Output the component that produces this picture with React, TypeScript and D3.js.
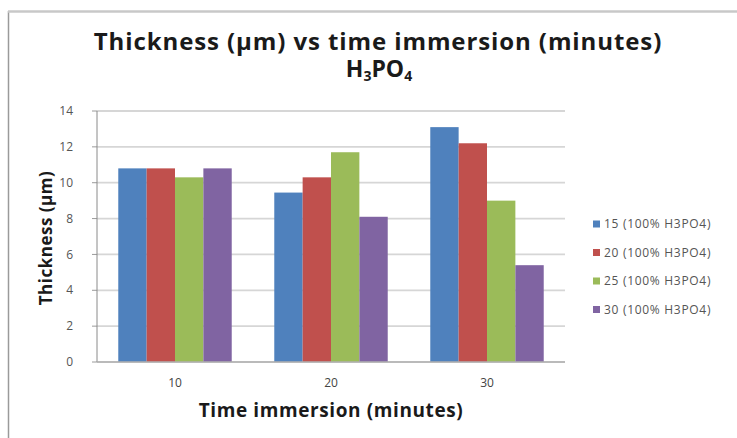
import React from "react";
import * as d3 from "d3";

const categories = ["10", "20", "30"];
const seriesNames = ["15 (100% H3PO4)", "20 (100% H3PO4)", "25 (100% H3PO4)", "30 (100% H3PO4)"];
const seriesColors = ["#4F81BD", "#C0504D", "#9BBB59", "#8064A2"];
const s15 = [10.8, 9.45, 13.1];
const s20 = [10.8, 10.3, 12.2];
const s25 = [10.3, 11.7, 9.0];
const s30 = [10.8, 8.1, 5.4];
const seriesValues = [s15, s20, s25, s30];
const yTicks = [0, 2, 4, 6, 8, 10, 12, 14];

const W = 737;
const H = 438;
const plot = { left: 97, right: 565, top: 111, bottom: 362 };
const FONT = "'Open Sans', Lato, sans-serif";

export default function App() {
  const x0 = d3.scaleBand<string>().domain(categories).range([plot.left, plot.right]).paddingInner(0).paddingOuter(0);
  const bw = x0.bandwidth();
  const barW = bw / 5.5;
  const x1 = d3
    .scaleBand<number>()
    .domain(seriesNames.map((_, i) => i))
    .range([0, barW * 4]);
  const y = d3.scaleLinear().domain([0, 14]).range([plot.bottom, plot.top]);

  return (
    <svg
      width={W}
      height={H}
      style={{ position: "fixed", left: 0, top: 0, background: "#fff" }}
      fontFamily={FONT}
    >
      <rect x={0} y={0} width={W} height={H} fill="#fff" />
      {/* frame */}
      <line x1={8.5} x2={8.5} y1={11} y2={H} stroke="#9a9a9a" strokeWidth={1.5} />
      <line x1={8} x2={W} y1={11.5} y2={11.5} stroke="#c8c8c8" strokeWidth={2.5} />

      {/* title */}
      <text x={378} y={50} textAnchor="middle" fontSize={24} fontWeight="bold" letterSpacing={0.9} fill="#1a1a1a">
        Thickness (μm) vs time immersion (minutes)
      </text>
      <text x={379} y={77} textAnchor="middle" fontSize={23} fontWeight="bold" fill="#1a1a1a">
        H
        <tspan fontSize={14} dy={4}>3</tspan>
        <tspan dy={-4}>PO</tspan>
        <tspan fontSize={14} dy={4}>4</tspan>
      </text>

      {/* gridlines */}
      {yTicks.map((t) => (
        <g key={t}>
          <line
            x1={plot.left}
            x2={plot.right}
            y1={y(t)}
            y2={y(t)}
            stroke="#d6d6d6"
            strokeWidth={1.8}
          />
          <line x1={plot.left - 5} x2={plot.left} y1={y(t)} y2={y(t)} stroke="#9a9a9a" strokeWidth={1} />
          <text
            x={plot.left - 24}
            y={y(t)}
            dy="0.35em"
            textAnchor="end"
            fontSize={12}
            fill="#555"
          >
            {t}
          </text>
        </g>
      ))}

      {/* bars */}
      {categories.map((c, ci) => (
        <g key={c} transform={`translate(${(x0(c) as number) + barW * 0.75},0)`}>
          {seriesValues.map((vals, si) => (
            <rect
              key={si}
              x={x1(si)}
              y={y(vals[ci])}
              width={x1.bandwidth()}
              height={y(0) - y(vals[ci])}
              fill={seriesColors[si]}
            />
          ))}
        </g>
      ))}

      {/* axes */}
      <line x1={plot.left} x2={plot.left} y1={plot.top} y2={plot.bottom} stroke="#8a8a8a" strokeWidth={1} />
      <line x1={plot.left} x2={plot.right} y1={plot.bottom} y2={plot.bottom} stroke="#b0b0b0" strokeWidth={1.5} />

      {categories.map((c) => (
        <text
          key={c}
          x={(x0(c) as number) + bw / 2}
          y={383}
          dy="0.35em"
          textAnchor="middle"
          fontSize={12}
          fill="#444"
        >
          {c}
        </text>
      ))}

      <text x={331} y={410} dy="0.35em" textAnchor="middle" fontSize={19} fontWeight="bold" letterSpacing={0.6} fill="#1a1a1a">
        Time immersion (minutes)
      </text>
      <text
        transform={`translate(46,238) rotate(-90)`}
        textAnchor="middle"
        dy="0.35em"
        fontSize={17}
        fontWeight="bold"
        letterSpacing={0.5}
        fill="#1a1a1a"
      >
        Thickness (μm)
      </text>

      {/* legend */}
      {seriesNames.map((n, i) => (
        <g key={n} transform={`translate(593,${224 + i * 28.5})`}>
          <rect x={0} y={-3.5} width={7} height={7} fill={seriesColors[i]} />
          <text x={11} y={0} dy="0.35em" fontSize={12} letterSpacing={0.7} fill="#555">
            {n}
          </text>
        </g>
      ))}
    </svg>
  );
}
